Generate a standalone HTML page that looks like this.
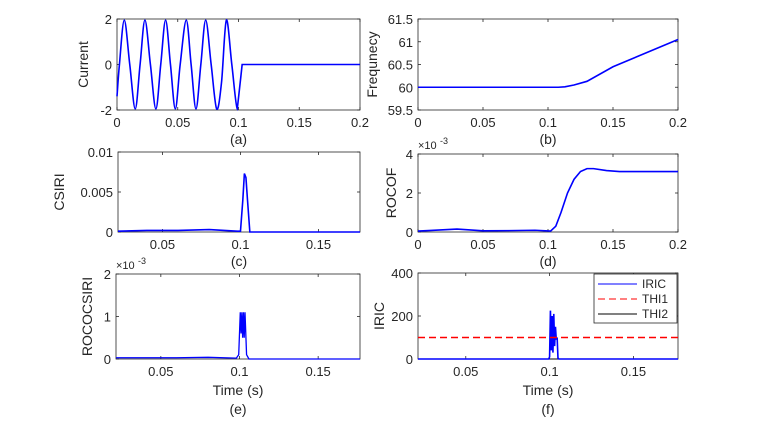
<!DOCTYPE html>
<html><head><meta charset="utf-8">
<style>
body{margin:0;background:#fff;}
svg{display:block;font-family:"Liberation Sans",sans-serif;}
</style></head>
<body>
<svg id="fig" width="770" height="430" viewBox="0 0 770 430" xmlns="http://www.w3.org/2000/svg"></svg>
<script>
// ---- data arrays ----
const curT=[0,0.002,0.006,0.0105,0.015,0.019,0.023,0.0275,0.032,0.036,0.040,0.044,0.048,0.052,0.057,0.061,0.065,0.069,0.073,0.0775,0.082,0.086,0.090,0.0945,0.099,0.102,0.103,0.2];
const curV=[-1.4,0,1.95,0,-1.95,0,1.95,0,-1.95,0,1.95,0,-1.95,0,1.95,0,-1.95,0,1.95,0,-1.95,-0.8,1.95,0,-1.95,-0.5,0,0];
const frqT=[0,0.108,0.113,0.12,0.13,0.15,0.2];
const frqV=[60,60,60.01,60.05,60.13,60.45,61.05];
const csT=[0.0215,0.04,0.06,0.08,0.098,0.100,0.1015,0.1025,0.1035,0.1045,0.106,0.12,0.1766];
const csV=[0.0001,0.0002,0.0002,0.0003,0.0001,0.0001,0.004,0.0073,0.0068,0.004,0,0,0];
const roT=[0,0.01,0.03,0.05,0.07,0.09,0.102,0.106,0.11,0.115,0.12,0.125,0.13,0.135,0.145,0.155,0.2];
const roV=[0.05,0.08,0.15,0.06,0.07,0.09,0.05,0.3,1.0,2.0,2.7,3.1,3.25,3.25,3.15,3.1,3.1];
const rcT=[0.0215,0.04,0.06,0.08,0.098,0.0995,0.1005,0.101,0.1015,0.102,0.1025,0.103,0.1035,0.1045,0.106,0.12,0.1766];
const rcV=[0.03,0.03,0.03,0.04,0.02,0.1,1.1,0.6,1.1,0.5,1.1,0.5,1.1,0.1,0,0,0];
const irT=[0.0215,0.0995,0.1,0.1005,0.101,0.1015,0.102,0.1025,0.103,0.1035,0.104,0.1045,0.105,0.1055,0.1766];
const irV=[0,0,10,225,40,200,30,210,60,150,90,100,5,0,0];
const thi1=[100];
const thi2=[0];
const xt02=[0,0.05,0.1,0.15,0.2];
const xtS=[0.05,0.1,0.15];

const svg=document.getElementById('fig');
const NS='http://www.w3.org/2000/svg';
function mk(tag,attrs,parent,txt){const e=document.createElementNS(NS,tag);for(const k in attrs)e.setAttribute(k,attrs[k]);if(txt!==undefined)e.textContent=txt;(parent||svg).appendChild(e);return e;}

function panel(o){
  const g=mk('g',{});
  
  
  const X=v=>o.x0+(v-o.xd[0])/(o.xd[1]-o.xd[0])*(o.x1-o.x0);
  const Y=v=>o.y1-(v-o.yd[0])/(o.yd[1]-o.yd[0])*(o.y1-o.y0);
  const r=mk('rect',{x:o.x0,y:o.y0,width:o.x1-o.x0,height:o.y1-o.y0,fill:'#fff',stroke:'#262626','stroke-width':0.8},g);
  
  
  o.xt.forEach(t=>{const x=X(t);
    mk('line',{x1:x,x2:x,y1:o.y1,y2:o.y1-3,stroke:'#262626','stroke-width':0.8},g);
    mk('line',{x1:x,x2:x,y1:o.y0,y2:o.y0+3,stroke:'#262626','stroke-width':0.8},g);
    const tl=mk('text',{x:x,y:o.y1+17,'text-anchor':'middle','font-size':13,fill:'#262626'},g,String(t));
    
    
  });
  o.yt.forEach((t,i)=>{const y=Y(t);
    mk('line',{x1:o.x0,x2:o.x0+3,y1:y,y2:y,stroke:'#262626','stroke-width':0.8},g);
    mk('line',{x1:o.x1,x2:o.x1-3,y1:y,y2:y,stroke:'#262626','stroke-width':0.8},g);
    const tl=mk('text',{x:o.x0-5,y:y+5,'text-anchor':'end','font-size':13,fill:'#262626'},g,o.ytl?o.ytl[i]:String(t));
    
    
  });
  const yl=mk('text',{x:0,y:0,transform:`translate(${o.ylx},${(o.y0+o.y1)/2}) rotate(-90)`,'text-anchor':'middle','font-size':14,fill:'#262626'},g,o.ylab);
  
  
  if(o.exp){const e=mk('text',{x:o.x0,y:o.y0-5,'font-size':11,fill:'#262626'},g,'\u00d710');
    
    
    mk('text',{x:o.x0+22,y:o.y0-10,'font-size':9,fill:'#262626'},g,'-3');}
  let ly=o.y1+34;
  if(o.time){const t=mk('text',{x:(o.x0+o.x1)/2,y:o.y1+36,'text-anchor':'middle','font-size':14,fill:'#262626'},g,'Time (s)');
    
    
    ly=o.y1+55;}
  const c=mk('text',{x:(o.x0+o.x1)/2,y:ly,'text-anchor':'middle','font-size':14,fill:'#262626'},g,o.cap);
  
  
  o.series.forEach(s=>{
    let d;
    if(s.smooth){const p=s.t.map((t,i)=>[X(t),Y(s.v[i])]);d='M'+p[0];
      for(let i=0;i<p.length-1;i++){const p0=p[Math.max(i-1,0)],p1=p[i],p2=p[i+1],p3=p[Math.min(i+2,p.length-1)];
        const k=s.t[i+1]>0.101?0:1/6;
        d+=` C${p1[0]+(p2[0]-p0[0])*k},${p1[1]+(p2[1]-p0[1])*k} ${p2[0]-(p3[0]-p1[0])*k},${p2[1]-(p3[1]-p1[1])*k} ${p2[0]},${p2[1]}`;}
    } else d=s.t.map((t,i)=>(i?'L':'M')+X(t).toFixed(2)+','+Y(s.v[i]).toFixed(2)).join(' ');
    const pe=mk('path',{d:d,fill:'none',stroke:s.c,'stroke-width':s.w||1.6,'stroke-dasharray':s.dash||'none'},g);
    
    
  });
  return g;
}
panel({name:'panel-a-current',x0:117,x1:360,y0:19,y1:110,xd:[0,0.2],yd:[-2,2],xt:xt02,yt:[-2,0,2],ylab:'Current',ylx:88,cap:'(a)',
  series:[{name:'current-line',t:curT,v:curV,c:'#0000ff',smooth:true}]});
panel({name:'panel-b-frequency',x0:418,x1:678,y0:19,y1:110,xd:[0,0.2],yd:[59.5,61.5],xt:xt02,yt:[59.5,60,60.5,61,61.5],ylab:'Frequnecy',ylx:377,cap:'(b)',
  series:[{name:'frequency-line',t:frqT,v:frqV,c:'#0000ff'}]});
panel({name:'panel-c-csiri',x0:118,x1:360,y0:152,y1:232,xd:[0.0215,0.1766],yd:[0,0.01],xt:xtS,yt:[0,0.005,0.01],ylab:'CSIRI',ylx:64,cap:'(c)',
  series:[{name:'csiri-line',t:csT,v:csV,c:'#0000ff'}]});
panel({name:'panel-d-rocof',x0:418,x1:678,y0:154,y1:232,xd:[0,0.2],yd:[0,4],xt:xt02,yt:[0,2,4],ylab:'ROCOF',ylx:396,cap:'(d)',exp:true,
  series:[{name:'rocof-line',t:roT,v:roV,c:'#0000ff'}]});
panel({name:'panel-e-rococsiri',x0:116,x1:360,y0:274,y1:359,xd:[0.0215,0.1766],yd:[0,2],xt:xtS,yt:[0,1,2],ylab:'ROCOCSIRI',ylx:92,cap:'(e)',exp:true,time:true,
  series:[{name:'rococsiri-line',t:rcT,v:rcV,c:'#0000ff',w:1.3}]});
const pf=panel({name:'panel-f-iric',x0:418,x1:678,y0:273,y1:359,xd:[0.0215,0.1766],yd:[0,400],xt:xtS,yt:[0,200,400],ylab:'IRIC',ylx:384,cap:'(f)',time:true,
  series:[{name:'thi2-line',t:[0.0215,0.1766],v:[thi2[0],thi2[0]],c:'#000',w:1},
          {name:'iric-line',t:irT,v:irV,c:'#0000ff',w:1.6},
          {name:'thi1-line',t:[0.0215,0.1766],v:[thi1[0],thi1[0]],c:'#ff0000',dash:'7,4',w:1.5}]});
// legend
const lg=mk('g',{},pf);


mk('rect',{x:594,y:274,width:83,height:49,fill:'#fff',stroke:'#262626','stroke-width':0.8},lg);
[['IRIC','#0000ff','none'],['THI1','#ff0000','7,4'],['THI2','#000','none']].forEach((e,i)=>{
  const y=284+i*15;
  const le=mk('g',{},lg);
  
  
  mk('line',{x1:598,x2:637,y1:y,y2:y,stroke:e[1],'stroke-width':1,'stroke-dasharray':e[2]},le);
  mk('text',{x:642,y:y+4,'font-size':12,fill:'#262626'},le,e[0]);
});
</script>
</body></html>
